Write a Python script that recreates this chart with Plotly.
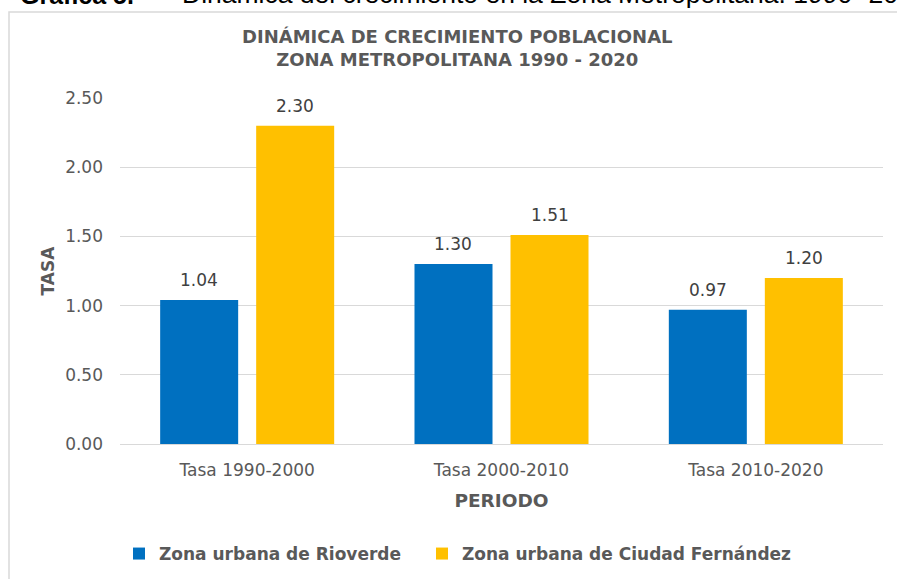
import plotly.graph_objects as go

categories = ["Tasa 1990-2000", "Tasa 2000-2010", "Tasa 2010-2020"]
rioverde = [1.04, 1.30, 0.97]
fernandez = [2.30, 1.51, 1.20]
series_names = ["Zona urbana de Rioverde", "Zona urbana de Ciudad Fernández"]
series_colors = ["#0070C0", "#FFC000"]
y_ticks = [0.0, 0.5, 1.0, 1.5, 2.0, 2.5]

W, H = 897, 579
L, R, T, B = 120, 14, 98, 135
pw, ph = W - L - R, H - T - B
BARGAP, GROUPGAP = 0.245, 0.1875

def px_x(x):
    return (x - L) / pw

def px_y(y):
    return (H - B - y) / ph

FONT = "DejaVu Sans"
GRAY = "#595959"

fig = go.Figure()
legend_widths = [258, None]
for name, vals, col, lw in zip(series_names, [rioverde, fernandez], series_colors, legend_widths):
    tr = go.Bar(
        x=categories, y=vals, name=name, marker_color=col,
        marker_line_width=0, hoverinfo="skip",
    )
    if lw:
        tr.legendwidth = lw
    fig.add_trace(tr)

# data labels above each bar, positioned in data coordinates
slot = (1 - BARGAP) / 2
for k, vals in enumerate([rioverde, fernandez]):
    off = -slot / 2 + k * slot
    for i, v in enumerate(vals):
        fig.add_annotation(
            x=i + off, y=v, xref="x", yref="y",
            text=f"{v:.2f}", showarrow=False,
            xanchor="center", yanchor="bottom", yshift=8,
            font=dict(family=FONT, size=17, color="#404040"),
        )

fig.update_layout(
    width=W, height=H,
    margin=dict(l=L, r=R, t=T, b=B, autoexpand=False),
    paper_bgcolor="white", plot_bgcolor="white",
    barmode="group", bargap=BARGAP, bargroupgap=GROUPGAP,
    font=dict(family=FONT, color=GRAY),
    showlegend=True, hovermode=False,
    legend=dict(orientation="h", x=px_x(119), xanchor="left",
                y=px_y(554), yanchor="middle",
                font=dict(family=FONT, size=17, color=GRAY, weight="bold"),
                traceorder="normal"),
    xaxis=dict(showgrid=False, ticks="", showline=False,
               ticklabelstandoff=14,
               tickfont=dict(family=FONT, size=17, color=GRAY),
               title=dict(text="<b>PERIODO</b>", font=dict(family=FONT, size=18.5, color=GRAY),
                          standoff=15)),
    yaxis=dict(range=[0, 2.5], tickvals=y_ticks, tickformat=".2f",
               showgrid=True, gridcolor="#D9D9D9", gridwidth=1,
               zeroline=True, zerolinecolor="#D9D9D9", zerolinewidth=1,
               showline=False, ticks="", ticklabelstandoff=16,
               tickfont=dict(family=FONT, size=17, color=GRAY),
               title=dict(text="<b>TASA</b>", font=dict(family=FONT, size=17, color=GRAY),
                          standoff=6)),
)

fig.add_annotation(
    xref="paper", yref="paper", x=px_x(457), y=px_y(48),
    xanchor="center", yanchor="middle", showarrow=False,
    text="<b>DINÁMICA DE CRECIMIENTO POBLACIONAL<br>ZONA METROPOLITANA 1990 - 2020</b>",
    font=dict(family=FONT, size=18, color=GRAY),
)

fig.add_annotation(
    xref="paper", yref="paper", x=px_x(18), y=px_y(11),
    xanchor="left", yanchor="bottom", showarrow=False,
    text="<b>Gráfica 5.</b>",
    font=dict(family="Liberation Sans", size=25, color="#000000"),
)
fig.add_annotation(
    xref="paper", yref="paper", x=px_x(180), y=px_y(11),
    xanchor="left", yanchor="bottom", showarrow=False,
    text="Dinámica del crecimiento en la Zona Metropolitana. 1990- 2020",
    font=dict(family="Liberation Sans", size=26.5, color="#000000"),
)

fig.add_shape(type="rect", xref="paper", yref="paper",
              x0=px_x(9), x1=px_x(905), y0=px_y(12), y1=px_y(590),
              line=dict(color="#D9D9D9", width=1.5), fillcolor="rgba(0,0,0,0)",
              layer="below")

fig.write_html("out.html", config={"displayModeBar": False},
               post_script="document.body.style.margin='0';")
